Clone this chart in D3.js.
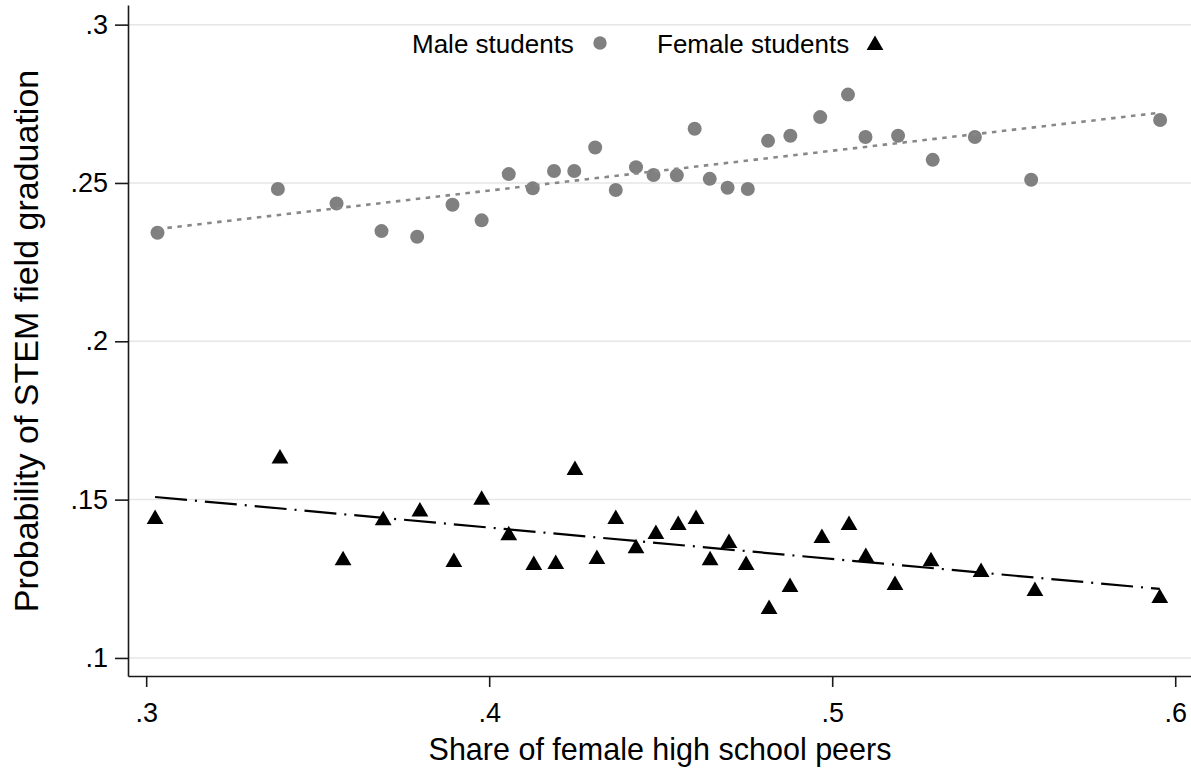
<!DOCTYPE html>
<html>
<head>
<meta charset="utf-8">
<script src="https://cdn.jsdelivr.net/npm/d3@7"></script>
<style>
body { margin: 0; background: #fff; }
svg { font-family: "Liberation Sans", Arial, sans-serif; }
.grid line { stroke: #e6e6e6; stroke-width: 1.5; }
.axis path, .axis line { stroke: #1a1a1a; stroke-width: 1.6; }
.axis text { font-family: "Liberation Sans", Arial, sans-serif; font-size: 27px; fill: #000; }
.legend text { font-size: 26px; fill: #000; }
.title { font-size: 30px; fill: #000; }
</style>
</head>
<body>
<div id="chart"></div>
<script>
// binned scatter values
var maleShare = [0.3033, 0.3384, 0.3555, 0.3686, 0.3790, 0.3893, 0.3978, 0.4057, 0.4127, 0.4189,
                 0.4248, 0.4309, 0.4369, 0.4428, 0.4479, 0.4547, 0.4599, 0.4643, 0.4695, 0.4754,
                 0.4813, 0.4878, 0.4965, 0.5046, 0.5097, 0.5192, 0.5293, 0.5416, 0.5580, 0.5956];
var maleProb = [0.2343, 0.2481, 0.2435, 0.2348, 0.2330, 0.2431, 0.2382, 0.2528, 0.2483, 0.2538,
                0.2538, 0.2612, 0.2478, 0.2550, 0.2525, 0.2524, 0.2671, 0.2513, 0.2485, 0.2481,
                0.2633, 0.2649, 0.2708, 0.2779, 0.2645, 0.2649, 0.2573, 0.2645, 0.2510, 0.2699];
var femaleShare = [0.3026, 0.3390, 0.3574, 0.3691, 0.3798, 0.3897, 0.3978, 0.4057, 0.4130, 0.4194,
                   0.4250, 0.4314, 0.4369, 0.4428, 0.4486, 0.4551, 0.4603, 0.4644, 0.4699, 0.4749,
                   0.4816, 0.4877, 0.4970, 0.5049, 0.5098, 0.5183, 0.5288, 0.5434, 0.5591, 0.5955];
var femaleProb = [0.1445, 0.1636, 0.1315, 0.1441, 0.1469, 0.1309, 0.1506, 0.1394, 0.1300, 0.1303,
                  0.1600, 0.1319, 0.1445, 0.1353, 0.1398, 0.1426, 0.1445, 0.1315, 0.1369, 0.1300,
                  0.1161, 0.1230, 0.1385, 0.1426, 0.1325, 0.1237, 0.1312, 0.1278, 0.1218, 0.1196];
var xTicks = [0.3, 0.4, 0.5, 0.6];
var yTicks = [0.1, 0.15, 0.2, 0.25, 0.3];
var legendLabels = ["Male students", "Female students"];

var width = 1191, height = 771;
var plot = {left: 128, right: 1191, top: 5, bottom: 676};

var svg = d3.select("#chart").append("svg")
    .attr("width", width)
    .attr("height", height);

var x = d3.scaleLinear().domain([0.2947, 0.6046]).range([plot.left, plot.right]);
var y = d3.scaleLinear().domain([0.0943, 0.3062]).range([plot.bottom, plot.top]);
var fmt = function(d) { return d3.format("~g")(d).replace(/^0\./, "."); };

// gridlines
svg.append("g")
    .attr("class", "grid")
  .selectAll("line")
  .data(yTicks)
  .enter().append("line")
    .attr("x1", plot.left)
    .attr("x2", plot.right)
    .attr("y1", function(d) { return y(d); })
    .attr("y2", function(d) { return y(d); });

// linear fit, like stata lfit
function lfit(xs, ys) {
  var mx = d3.mean(xs), my = d3.mean(ys);
  var b = d3.sum(xs, function(v, i) { return (v - mx) * (ys[i] - my); }) /
          d3.sum(xs, function(v) { return (v - mx) * (v - mx); });
  var a = my - b * mx;
  return d3.extent(xs).map(function(v) { return [v, a + b * v]; });
}

var tri = "M0,-7.5L8.4,7L-8.4,7Z";

svg.append("g").selectAll("circle")
  .data(d3.zip(maleShare, maleProb))
  .enter().append("circle")
    .attr("cx", function(d) { return x(d[0]); })
    .attr("cy", function(d) { return y(d[1]); })
    .attr("r", 7)
    .attr("fill", "#808080");

svg.append("g").selectAll("path")
  .data(d3.zip(femaleShare, femaleProb))
  .enter().append("path")
    .attr("d", tri)
    .attr("transform", function(d) { return "translate(" + x(d[0]) + "," + y(d[1]) + ")"; })
    .attr("fill", "#000");

var line = d3.line()
    .x(function(d) { return x(d[0]); })
    .y(function(d) { return y(d[1]); });

svg.append("path")
    .datum(lfit(maleShare, maleProb))
    .attr("d", line)
    .attr("fill", "none")
    .attr("stroke", "#888")
    .attr("stroke-width", 2.6)
    .attr("stroke-dasharray", "4.5,5.5");

svg.append("path")
    .datum(lfit(femaleShare, femaleProb))
    .attr("d", line)
    .attr("fill", "none")
    .attr("stroke", "#000")
    .attr("stroke-width", 2.2)
    .attr("stroke-dasharray", "32,8,2,8");

// axes
svg.append("g")
    .attr("class", "axis axis--x")
    .attr("transform", "translate(0," + plot.bottom + ")")
    .call(d3.axisBottom(x).tickValues(xTicks).tickFormat(fmt)
      .tickSize(11).tickPadding(16).tickSizeOuter(0));

svg.append("g")
    .attr("class", "axis axis--y")
    .attr("transform", "translate(" + plot.left + ",0)")
    .call(d3.axisLeft(y).tickValues(yTicks).tickFormat(fmt)
      .tickSize(13).tickPadding(7).tickSizeOuter(0));

// axis titles
svg.append("text")
    .attr("class", "title")
    .attr("x", 660)
    .attr("y", 760)
    .attr("text-anchor", "middle")
    .style("font-size", "30.5px")
    .text("Share of female high school peers");

svg.append("text")
    .attr("class", "title")
    .attr("transform", "translate(38,341) rotate(-90)")
    .attr("text-anchor", "middle")
    .style("font-size", "34px")
    .text("Probability of STEM field graduation");

// legend
var legend = svg.append("g").attr("class", "legend");
var legendX = [412, 657], markerX = [600, 875];
legend.selectAll("text")
  .data(legendLabels)
  .enter().append("text")
    .attr("x", function(d, i) { return legendX[i]; })
    .attr("y", 53)
    .text(function(d) { return d; });
legend.append("circle")
    .attr("cx", markerX[0])
    .attr("cy", 43)
    .attr("r", 6.7)
    .attr("fill", "#808080");
legend.append("path")
    .attr("d", tri)
    .attr("transform", "translate(" + markerX[1] + ",43)")
    .attr("fill", "#000");
</script>
</body>
</html>
